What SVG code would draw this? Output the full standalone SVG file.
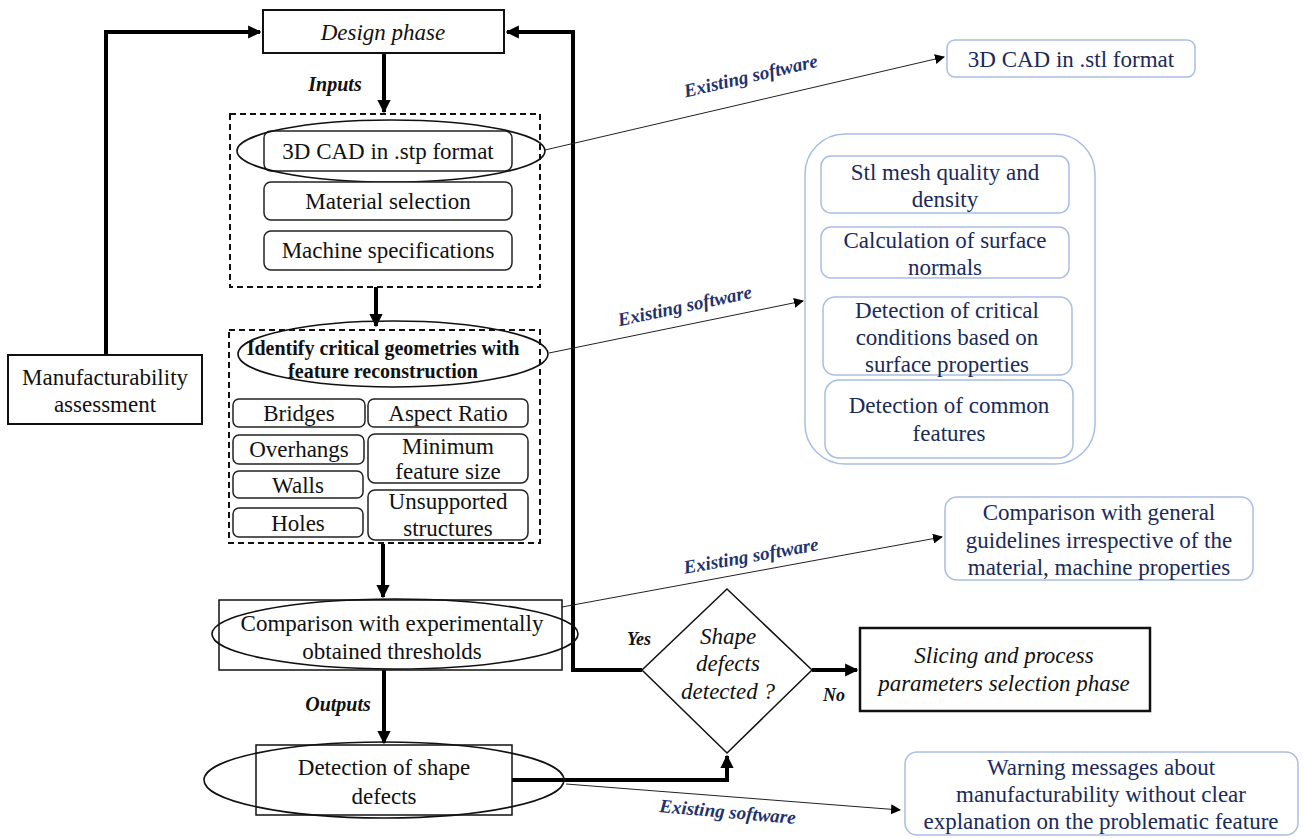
<svg xmlns="http://www.w3.org/2000/svg" width="1304" height="838" viewBox="0 0 1304 838" font-family="'Liberation Serif', 'Times New Roman', Times, serif">
<defs>
<style>
text{font-family:'Liberation Serif','Times New Roman',Times,serif;fill:#111;text-anchor:middle}
.t{font-size:23px}
.it{font-size:23px;font-style:italic}
.lbl{font-size:20px;font-style:italic;font-weight:bold}
.lbs{font-size:18px;font-style:italic;font-weight:bold}
.sw{font-size:19px;font-style:italic;font-weight:bold;fill:#1f3370}
.bt{font-size:23px;fill:#1a2a5a}
.bold{font-size:20px;font-weight:bold}
.box{fill:#fff;stroke:#111;stroke-width:2}
.rbox{fill:#fff;stroke:#222;stroke-width:1.5}
.dash{fill:none;stroke:#111;stroke-width:2;stroke-dasharray:6 4}
.ell{fill:none;stroke:#111;stroke-width:1.6}
.blue{fill:#fff;stroke:#a9bde3;stroke-width:1.5}
.thick{fill:none;stroke:#000;stroke-width:4}
.thin{fill:none;stroke:#222;stroke-width:1}
</style>
<marker id="ah" viewBox="0 0 10 10" refX="9" refY="5" markerWidth="3.3" markerHeight="3.3" orient="auto"><path d="M0,0 L10,5 L0,10 z" fill="#000"/></marker>
<marker id="ahs" viewBox="0 0 10 10" refX="9" refY="5" markerWidth="10" markerHeight="10" orient="auto" markerUnits="userSpaceOnUse"><path d="M0,0 L10,5 L0,10 z" fill="#000"/></marker>
</defs>

<g id="connectors">
<path class="thick" d="M106,355 V32 H260" marker-end="url(#ah)"/>
<path class="thick" d="M642,670 H573 V32 H507" marker-end="url(#ah)"/>
<path class="thick" d="M384,53 V112" marker-end="url(#ah)"/>
<path class="thick" d="M376,287 V326" marker-end="url(#ah)"/>
<path class="thick" d="M383,544 V597" marker-end="url(#ah)"/>
<path class="thick" d="M384,670 V743" marker-end="url(#ah)"/>
<path class="thick" d="M512,780 H727 V756" marker-end="url(#ah)"/>
<path class="thick" d="M812,670 H857" marker-end="url(#ah)"/>
<path class="thin" d="M545,150 L944,57" marker-end="url(#ahs)"/>
<path class="thin" d="M549,353 L803,301" marker-end="url(#ahs)"/>
<path class="thin" d="M562,607 L942,537" marker-end="url(#ahs)"/>
<path class="thin" d="M566,784 L900,810" marker-end="url(#ahs)"/>
<text class="lbl" x="335" y="91">Inputs</text>
<text class="lbl" x="338" y="711">Outputs</text>
<text class="lbs" x="639" y="645">Yes</text>
<text class="lbs" x="834" y="701">No</text>
<text class="sw" transform="translate(752,82) rotate(-13)">Existing software</text>
<text class="sw" transform="translate(686,312) rotate(-12)">Existing software</text>
<text class="sw" transform="translate(752,562) rotate(-10)">Existing software</text>
<text class="sw" transform="translate(727,818) rotate(5)">Existing software</text>
</g>

<g id="design-phase">
<rect class="box" x="263" y="10" width="241" height="43"/>
<text class="it" x="383" y="40">Design phase</text>
</g>

<g id="manufacturability">
<rect class="box" x="8" y="355" width="194" height="69"/>
<text class="t" x="105" y="385">Manufacturability</text>
<text class="t" x="105" y="412">assessment</text>
</g>

<g id="inputs-group">
<rect class="dash" x="230" y="114" width="310" height="173"/>
<rect class="rbox" x="264" y="131" width="248" height="40" rx="7"/>
<text class="t" x="388" y="159">3D CAD in .stp format</text>
<ellipse class="ell" cx="391" cy="151" rx="154" ry="31"/>
<rect class="rbox" x="264" y="182" width="248" height="38" rx="7"/>
<text class="t" x="388" y="209">Material selection</text>
<rect class="rbox" x="264" y="231" width="248" height="39" rx="7"/>
<text class="t" x="388" y="258">Machine specifications</text>
</g>

<g id="critical-group">
<rect class="dash" x="229" y="330" width="311" height="213"/>
<ellipse class="ell" cx="393" cy="354" rx="155" ry="33"/>
<text class="bold" x="383" y="355">Identify critical geometries with</text>
<text class="bold" x="383" y="378">feature reconstruction</text>
<rect class="rbox" x="233" y="399" width="132" height="28" rx="6"/>
<text class="t" x="299" y="421">Bridges</text>
<rect class="rbox" x="368" y="399" width="160" height="28" rx="6"/>
<text class="t" x="448" y="421">Aspect Ratio</text>
<rect class="rbox" x="233" y="435" width="131" height="29" rx="6"/>
<text class="t" x="299" y="457">Overhangs</text>
<rect class="rbox" x="368" y="434" width="160" height="49" rx="7"/>
<text class="t" x="448" y="454">Minimum</text>
<text class="t" x="448" y="479">feature size</text>
<rect class="rbox" x="233" y="471" width="130" height="27" rx="6"/>
<text class="t" x="298" y="493">Walls</text>
<rect class="rbox" x="368" y="490" width="160" height="50" rx="7"/>
<text class="t" x="448" y="509">Unsupported</text>
<text class="t" x="448" y="536">structures</text>
<rect class="rbox" x="233" y="508" width="130" height="29" rx="6"/>
<text class="t" x="298" y="531">Holes</text>
</g>

<g id="comparison-thresholds">
<rect class="box" x="219" y="600" width="343" height="70" style="stroke-width:1.5"/>
<ellipse class="ell" cx="395" cy="634" rx="183" ry="35"/>
<text class="t" x="392" y="631">Comparison with experimentally</text>
<text class="t" x="392" y="659">obtained thresholds</text>
</g>

<g id="detection-shape-defects">
<rect class="box" x="256" y="745" width="256" height="70" style="stroke-width:1.5"/>
<ellipse class="ell" cx="384" cy="780" rx="180" ry="38"/>
<text class="t" x="384" y="775">Detection of shape</text>
<text class="t" x="384" y="804">defects</text>
</g>

<g id="decision">
<polygon points="727,589 812,670 727,753 642,670" fill="#fff" stroke="#111" stroke-width="1.5"/>
<text class="it" x="728" y="644">Shape</text>
<text class="it" x="728" y="671">defects</text>
<text class="it" x="728" y="699">detected ?</text>
</g>

<g id="slicing">
<rect class="box" x="860" y="628" width="290" height="83" style="stroke-width:2.5"/>
<text class="it" x="1004" y="663">Slicing and process</text>
<text class="it" x="1004" y="691">parameters selection phase</text>
</g>

<g id="stl-format">
<rect class="blue" x="947" y="40" width="248" height="37" rx="8"/>
<text class="bt" x="1071" y="67">3D CAD in .stl format</text>
</g>

<g id="software-features">
<rect class="blue" x="805" y="134" width="290" height="330" rx="40"/>
<rect class="blue" x="821" y="156" width="248" height="57" rx="10"/>
<text class="bt" x="945" y="180">Stl mesh quality and</text>
<text class="bt" x="945" y="207">density</text>
<rect class="blue" x="821" y="227" width="248" height="51" rx="10"/>
<text class="bt" x="945" y="248">Calculation of surface</text>
<text class="bt" x="945" y="275">normals</text>
<rect class="blue" x="823" y="297" width="249" height="78" rx="12"/>
<text class="bt" x="947" y="318">Detection of critical</text>
<text class="bt" x="947" y="345">conditions based on</text>
<text class="bt" x="947" y="372">surface properties</text>
<rect class="blue" x="825" y="380" width="248" height="78" rx="14"/>
<text class="bt" x="949" y="413">Detection of common</text>
<text class="bt" x="949" y="441">features</text>
</g>

<g id="general-guidelines">
<rect class="blue" x="945" y="497" width="308" height="83" rx="12"/>
<text class="bt" x="1099" y="520">Comparison with general</text>
<text class="bt" x="1099" y="548">guidelines irrespective of the</text>
<text class="bt" x="1099" y="575">material, machine properties</text>
</g>

<g id="warning-messages">
<rect class="blue" x="905" y="752" width="393" height="83" rx="12"/>
<text class="bt" x="1101" y="775">Warning messages about</text>
<text class="bt" x="1101" y="802">manufacturability without clear</text>
<text class="bt" x="1101" y="829">explanation on the problematic feature</text>
</g>
</svg>
